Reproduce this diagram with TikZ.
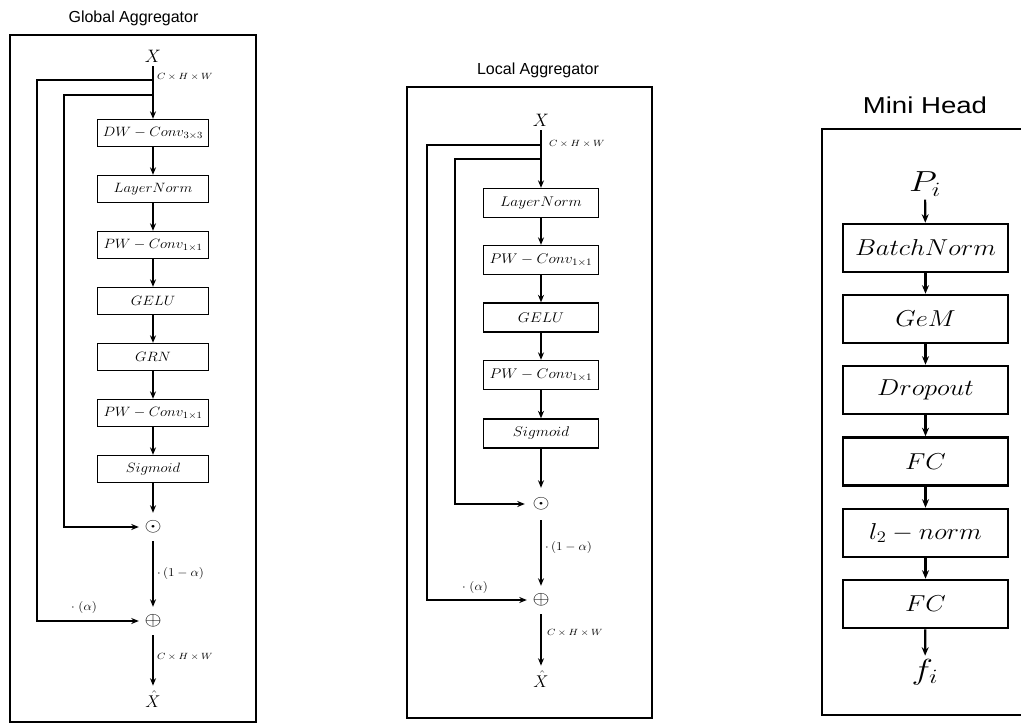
\RequirePackage{fix-cm}
\documentclass[tikz,border=0pt]{standalone}
\usepackage{fontspec}
\usepackage{graphicx}
\newfontfamily\titlefont{Liberation Sans}
\usetikzlibrary{arrows.meta}
\newcommand{\sx}[2][1.1]{\scalebox{#1}[1]{#2}}
\newcommand{\fs}[1]{\fontsize{#1}{#1}\selectfont}
\tikzset{
  frame/.style={draw, line width=1.2pt, inner sep=0pt},
  gbox/.style={draw, line width=1.3pt, minimum width=111pt, minimum height=27pt, inner sep=0pt, font=\fs{13.5}},
  lbox/.style={draw, line width=1.3pt, minimum width=115pt, minimum height=29pt, inner sep=0pt, font=\fs{14}},
  mbox/.style={draw, line width=2.6pt, minimum width=165pt, minimum height=48pt, inner sep=0pt, font=\fs{23}},
  arr/.style={-{Stealth[length=7.5pt,width=6pt]}, line width=1.3pt},
  marr/.style={-{Stealth[length=8.5pt,width=7pt]}, line width=2.2pt},
  opnode/.style={circle, minimum size=28pt, inner sep=0pt, font=\fs{19}},
  small/.style={inner sep=0pt, font=\fs{9}, anchor=west},
  lbl/.style={inner sep=0pt, font=\fs{12}},
}
\begin{document}
\begin{tikzpicture}[x=1pt,y=-1pt]
\useasboundingbox (0,0) rectangle (1021,727);

% ---------------- Global Aggregator ----------------
\node[inner sep=0pt, font=\titlefont\fs{16}] (gt) at (133.5,18) {Global Aggregator};
\node[frame, minimum width=246pt, minimum height=687pt] (gframe) at (133,378.5) {};
\node[inner sep=3pt, font=\fs{18}, anchor=base] (gx) at (153,63) {$X$};
\coordinate (ga) at (153,80);
\coordinate (gb) at (153,95);
\coordinate (gc1) at (37,80);
\coordinate (gc2) at (64,95);
\node[small] (gs1) at (157,77) {\sx[1.15]{$C\times H\times W$}};
\node[gbox] (g1) at (153,133) {\sx{$DW-Conv_{3\times3}$}};
\node[gbox] (g2) at (153,189) {\sx{$LayerNorm$}};
\node[gbox] (g3) at (153,245) {\sx{$PW-Conv_{1\times1}$}};
\node[gbox] (g4) at (153,301) {\sx{$GELU$}};
\node[gbox] (g5) at (153,357) {\sx{$GRN$}};
\node[gbox] (g6) at (153,413) {\sx{$PW-Conv_{1\times1}$}};
\node[gbox] (g7) at (153,469) {\sx{$Sigmoid$}};
\node[opnode] (godot) at (153,527) {\sx[1.15]{$\odot$}};
\node[opnode] (gplus) at (153,621) {\sx[1.15]{$\oplus$}};
\node[inner sep=5pt, font=\fs{17}, anchor=base] (gxh) at (153,707) {$\hat{X}$};
\node[lbl, anchor=west] (gl1) at (157,573) {\sx{$\cdot\,(1-\alpha)$}};
\node[lbl] (gl2) at (84,607) {\sx{$\cdot\;(\alpha)$}};
\node[small] (gs2) at (157,657) {\sx[1.15]{$C\times H\times W$}};

\draw[arr] (gx) -- (g1);
\draw[arr] (g1) -- (g2);
\draw[arr] (g2) -- (g3);
\draw[arr] (g3) -- (g4);
\draw[arr] (g4) -- (g5);
\draw[arr] (g5) -- (g6);
\draw[arr] (g6) -- (g7);
\draw[arr] (g7) -- (godot);
\draw[arr] (godot) -- (gplus);
\draw[arr] (gplus) -- (gxh);
\draw[arr] (ga) -- (gc1) |- (gplus);
\draw[arr] (gb) -- (gc2) |- (godot);

% ---------------- Local Aggregator ----------------
\node[inner sep=0pt, font=\titlefont\fs{16}] (lt) at (538,70) {Local Aggregator};
\node[frame, minimum width=245pt, minimum height=631pt] (lframe) at (529.5,402.5) {};
\node[inner sep=3pt, font=\fs{18}, anchor=base] (lx) at (541,127) {$X$};
\coordinate (la) at (541,145);
\coordinate (lb) at (541,159);
\coordinate (lc1) at (427,145);
\coordinate (lc2) at (455,159);
\node[small] (ls1) at (549,144) {\sx[1.15]{$C\times H\times W$}};
\node[lbox] (l1) at (541,203) {\sx{$LayerNorm$}};
\node[lbox] (l2) at (541,260) {\sx{$PW-Conv_{1\times1}$}};
\node[lbox] (l3) at (541,317.5) {\sx{$GELU$}};
\node[lbox] (l4) at (541,375) {\sx{$PW-Conv_{1\times1}$}};
\node[lbox] (l5) at (541,433.5) {\sx{$Sigmoid$}};
\node[opnode, minimum size=32pt] (lodot) at (541,504) {\sx[1.15]{$\odot$}};
\node[opnode] (lplus) at (541,600) {\sx[1.15]{$\oplus$}};
\node[inner sep=5pt, font=\fs{17}, anchor=base] (lxh) at (541,687) {$\hat{X}$};
\node[lbl, anchor=west] (ll1) at (545,547) {\sx{$\cdot\,(1-\alpha)$}};
\node[lbl] (ll2) at (475,587) {\sx{$\cdot\;(\alpha)$}};
\node[small] (ls2) at (547,633) {\sx[1.15]{$C\times H\times W$}};

\draw[arr] (lx) -- (l1);
\draw[arr] (l1) -- (l2);
\draw[arr] (l2) -- (l3);
\draw[arr] (l3) -- (l4);
\draw[arr] (l4) -- (l5);
\draw[arr] (l5) -- (lodot);
\draw[arr] (lodot) -- (lplus);
\draw[arr] (lplus) -- (lxh);
\draw[arr] (la) -- (lc1) |- (lplus);
\draw[arr] (lb) -- (lc2) |- (lodot);

% ---------------- Mini Head ----------------
\node[inner sep=0pt, font=\titlefont\fs{23}] (mt) at (925,105) {\scalebox{1.2}[1]{Mini Head}};
\draw[line width=2.6pt] (1040,129) -- (822,129) -- (822,715) -- (1040,715);
\node[inner sep=3pt, font=\fs{29}, anchor=base] (mp) at (925,192) {\sx[1.25]{$P_i$}};
\node[mbox] (m1) at (925.5,248) {\sx[1.15]{$BatchNorm$}};
\node[mbox] (m2) at (925.5,319) {\sx[1.15]{$GeM$}};
\node[mbox] (m3) at (925.5,390) {\sx[1.15]{$Dropout$}};
\node[mbox] (m4) at (925.5,461.5) {\sx[1.15]{$FC$}};
\node[mbox] (m5) at (925.5,533) {\sx[1.15]{$l_2-norm$}};
\node[mbox] (m6) at (925.5,604) {\sx[1.15]{$FC$}};
\node[inner sep=3pt, font=\fs{29}, anchor=base] (mf) at (925,679) {\sx[1.25]{$f_i$}};

\draw[marr] (mp) -- (m1);
\draw[marr] (m1) -- (m2);
\draw[marr] (m2) -- (m3);
\draw[marr] (m3) -- (m4);
\draw[marr] (m4) -- (m5);
\draw[marr] (m5) -- (m6);
\draw[marr] (m6) -- (mf);
\end{tikzpicture}
\end{document}
